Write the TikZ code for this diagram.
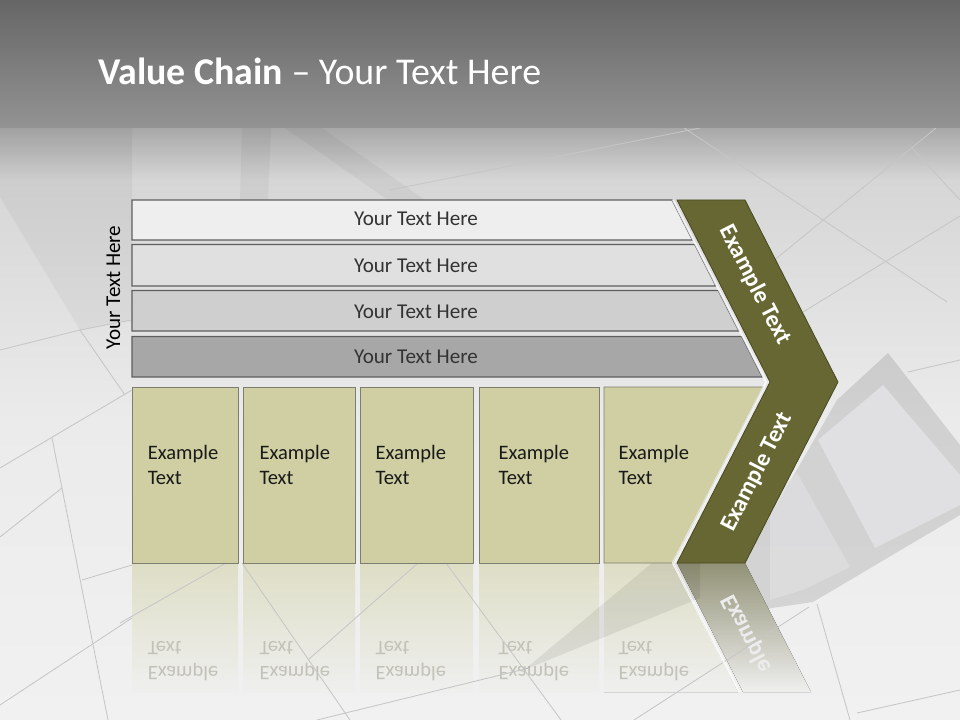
\documentclass[tikz,border=0pt]{standalone}
\usepackage{fontspec}
\setmainfont{Carlito}
\setsansfont{Carlito}
\usetikzlibrary{positioning}

\definecolor{hdrtop}{HTML}{666666}
\definecolor{hdrbot}{HTML}{939393}
\definecolor{floorhi}{HTML}{A8A8A8}
\definecolor{floormid}{HTML}{D6D6D6}
\definecolor{floorlo}{HTML}{EBEBEB}
\definecolor{floorend}{HTML}{F1F1F1}
\definecolor{seam}{HTML}{C6C6C6}
\definecolor{pane}{HTML}{E0E0E2}
\definecolor{barA}{HTML}{EEEEEE}
\definecolor{barB}{HTML}{E0E0E0}
\definecolor{barC}{HTML}{CFCFCF}
\definecolor{barD}{HTML}{A6A7A6}
\definecolor{barline}{HTML}{5E5E5E}
\definecolor{boxtan}{HTML}{CFCFA3}
\definecolor{tanline}{HTML}{7E7E70}
\definecolor{olive}{HTML}{676734}
\definecolor{oliveline}{HTML}{4A4A22}
\definecolor{refltan}{HTML}{DEDEC6}
\definecolor{reflolive}{HTML}{929277}
\definecolor{reflfloor}{HTML}{EFEFEF}
\definecolor{refltext}{HTML}{C2C2B8}

\begin{document}
\begin{tikzpicture}[
  x=0.025cm, y=-0.025cm,
  font=\sffamily,
  %% Shape styles
  bar/.style={draw=barline, line width=0.8pt},
  cell/.style={draw=tanline, fill=boxtan, line width=0.7pt},
  chevron/.style={draw=oliveline, fill=olive, line width=0.6pt},
  seamline/.style={draw=seam, line width=0.6pt},
  shadowband/.style={fill=black, opacity=0.04},
  %% Text styles
  title/.style={text=white, inner sep=0pt,
    font=\sffamily\fontsize{26.9}{30}\selectfont},
  bartext/.style={text=black!80, inner sep=0pt,
    font=\sffamily\fontsize{15}{18}\selectfont},
  celltext/.style={text=black!90, align=left, inner sep=0pt,
    font=\sffamily\fontsize{14.6}{18.3}\selectfont},
  armtext/.style={text=white, inner sep=0pt,
    font=\sffamily\bfseries\fontsize{17}{20}\selectfont},
  mirror/.style={yscale=-1},
]
\useasboundingbox (0,0) rectangle (960,720);

%% ── BACKGROUND ────────────────────────────────────────────────────────────
\fill[top color=floorhi, bottom color=floormid] (0,128) rectangle (960,180);
\fill[top color=floormid, bottom color=floorlo] (0,180) rectangle (960,420);
\fill[top color=floorlo, bottom color=floorend] (0,420) rectangle (960,720);

%% photo shadows
\fill[shadowband] (0,128) -- (0,197) -- (80,330) -- (132,320) -- (132,128) -- cycle;
\fill[shadowband] (242,128) -- (271,128) -- (268,200) -- (240,200) -- cycle;
\fill[shadowband] (285,128) -- (322,128) -- (425,200) -- (388,200) -- cycle;
%% window frame
\fill[shadowband, opacity=0.11] (888,353) -- (960,445) -- (960,515) -- (813,602)
  -- (745,612) -- (745,560) -- (837,400) -- cycle;
\fill[pane] (818,440) -- (883,385) -- (960,475) -- (960,505) -- (875,548) -- cycle;
\fill[pane, opacity=0.7] (797,473) -- (850,567) -- (803,590) -- (770,600)
  -- (770,500) -- cycle;
\draw[seamline] (908,372) -- (960,360);

%% ── REFLECTION ────────────────────────────────────────────────────────────
\foreach \l/\r in {132/238, 243/355, 360/473, 479/599}
  \fill[top color=refltan, bottom color=reflfloor] (\l,563) rectangle (\r,692);
\fill[top color=refltan, bottom color=reflfloor]
  (604,563) -- (673,563) -- (738,692) -- (604,692) -- cycle;
\fill[top color=reflolive, bottom color=reflfloor]
  (677,563) -- (745,563) -- (811,692) -- (743,692) -- cycle;

\foreach \i/\tx in {1/147.5, 2/259.3, 3/375.3, 4/498.3, 5/618.3}
  \node[celltext, mirror, text=refltext, anchor=base west] (mcell\i)
    at (\tx,641) {Example\\Text};
\begin{scope}
  \clip (677,563) -- (745,563) -- (800,670) -- (732,670) -- cycle;
  \node[armtext, mirror, rotate=62.9, text=white!85!gray] (marm) at (757,654) {Example Text};
\end{scope}

%% ── PHOTO SEAMS ───────────────────────────────────────────────────────────
\draw[seamline] (390,190) -- (700,128);
\draw[seamline] (684,128) -- (947,302);
\draw[seamline] (745,284) -- (936,128);
\draw[seamline] (912,148) -- (960,200);
\draw[seamline] (803,312) -- (960,216);
\draw[seamline] (0,350) -- (80,330) -- (132,320);
\draw[seamline] (80,330) -- (125,395);
\draw[seamline] (0,468) -- (132,390);
\draw[seamline] (52,438) -- (108,720);
\draw[seamline] (0,537) -- (62,488);
\draw[seamline] (82,580) -- (132,565);
\draw[seamline] (0,705) -- (132,618);
\draw[seamline] (120,623) -- (226,563);
\draw[seamline] (242,563) -- (350,720);
\draw[seamline] (308,660) -- (418,563);
\draw[seamline] (446,563) -- (561,720);
\draw[seamline] (317,720) -- (529,668);
\draw[seamline] (634,720) -- (809,607);
\draw[seamline] (817,604) -- (850,720);
\draw[seamline] (857,713) -- (960,690);
\fill[shadowband, opacity=0.07] (524,670) -- (652,563) -- (700,563) -- (700,598) -- cycle;

%% ── HEADER ────────────────────────────────────────────────────────────────
\fill[top color=hdrtop, bottom color=hdrbot] (0,0) rectangle (960,128);
\node[title, anchor=base west] (title) at (98,85)
  {\textbf{Value Chain} – Your Text Here};

%% ── BARS ──────────────────────────────────────────────────────────────────
\foreach \i/\top/\bot/\col/\base in {1/200/240/barA/225.3, 2/244.5/286/barB/272.7,
                                    3/290.5/331/barC/318.3, 4/336.5/377/barD/363.3} {
  \draw[bar, fill=\col] (132,\top) -- ({672+0.51*(\top-200)},\top)
    -- ({672+0.51*(\bot-200)},\bot) -- (132,\bot) -- cycle;
  \node[bartext, anchor=base] (bar\i) at (416,\base) {Your Text Here};
}
\node[bartext, text=black, rotate=90, anchor=base] (side) at (120,287.5) {Your Text Here};

%% ── CELLS ─────────────────────────────────────────────────────────────────
\foreach \l/\r in {132/238, 243/355, 360/473, 479/599}
  \draw[cell] (\l,387) rectangle (\r,563);
\draw[cell] (604,387) -- (763,387) -- (673,563) -- (604,563) -- cycle;

\foreach \i/\tx in {1/147.5, 2/259.3, 3/375.3, 4/498.3, 5/618.3}
  \node[celltext, anchor=base west] (cell\i) at (\tx,485) {Example\\Text};

%% ── CHEVRON ───────────────────────────────────────────────────────────────
\draw[white, line width=1.5pt, opacity=0.75]
  (673,200) -- (766,382) -- (673,563) -- (739,692);
\draw[chevron] (677,200) -- (745,200) -- (838,382) -- (745,563)
  -- (677,563) -- (770,382) -- cycle;
\node[armtext, rotate=-62.9] (armup) at (755,285) {Example Text};
\node[armtext, rotate=62.9] (armdown) at (757,472) {Example Text};

\end{tikzpicture}
\end{document}
